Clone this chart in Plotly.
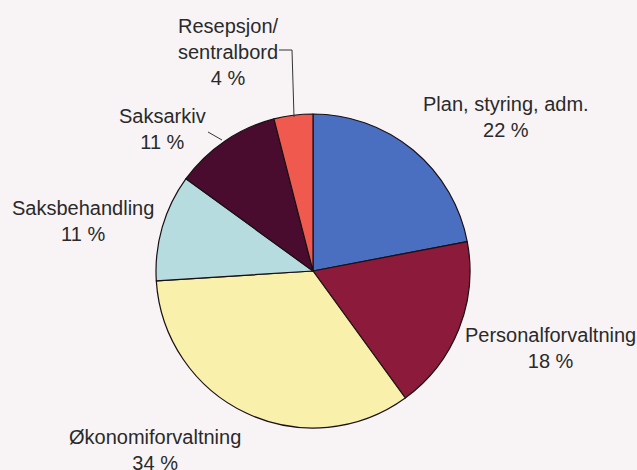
import plotly.graph_objects as go

labels = ["Plan, styring, adm.", "Personalforvaltning", "Økonomiforvaltning",
          "Saksbehandling", "Saksarkiv", "Resepsjon/<br>sentralbord"]
values = [22, 18, 34, 11, 11, 4]
colors = ["#4a6ec0", "#8c1a3a", "#f9f0ab", "#b6dce0", "#4a0c2e", "#f05a4e"]

# label anchor positions (pixels in the reference frame)
label_pos = [(506, 117), (550, 348), (155, 450), (83, 221), (162, 129), (228, 52)]

W, H = 637, 470


def fx(px):
    return px / W


def fy(py):
    return 1 - py / H


fig = go.Figure(go.Pie(
    labels=labels, values=values, sort=False, direction="clockwise", rotation=0,
    marker=dict(colors=colors, line=dict(color="#1a1014", width=1.2)),
    textinfo="none", hoverinfo="label+percent", showlegend=False,
    domain=dict(x=[fx(313 - 157), fx(313 + 157)], y=[fy(428), fy(114)]),
))

for lab, v, (px, py) in zip(labels, values, label_pos):
    fig.add_annotation(x=fx(px), y=fy(py), xref="paper", yref="paper",
                       text=f"{lab}<br>{v} %", showarrow=False, align="center",
                       xanchor="center", yanchor="middle",
                       font=dict(family="Liberation Sans, Arial, sans-serif", size=20, color="#2a2a2a"))


def seg(x0, y0, x1, y1):
    fig.add_shape(type="line", xref="paper", yref="paper",
                  x0=fx(x0), y0=fy(y0), x1=fx(x1), y1=fy(y1),
                  line=dict(color="#333333", width=1))


seg(279, 50, 292, 50)
seg(292, 50, 294, 117)
seg(208, 132, 222, 140)

fig.update_layout(width=W, height=H, margin=dict(l=0, r=0, t=0, b=0),
                  paper_bgcolor="#f8f4f5", plot_bgcolor="#f8f4f5")
fig.write_html("out.html", config={"displayModeBar": False},
               post_script="document.body.style.margin='0';document.body.style.overflow='hidden';")
